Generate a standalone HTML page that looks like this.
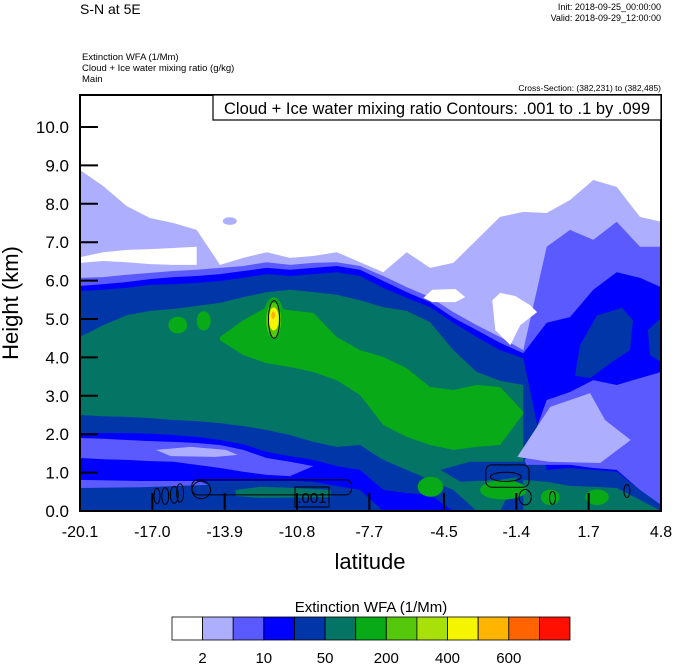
<!DOCTYPE html>
<html><head><meta charset="utf-8"><style>
html,body{margin:0;padding:0;background:#fff;}
svg{display:block;font-family:"Liberation Sans",Arial,sans-serif;}
</style></head><body>
<svg id="chart" width="674" height="668" viewBox="0 0 674 668" xmlns="http://www.w3.org/2000/svg">
<g id="header">
<text x="80" y="14" font-size="14">S-N at 5E</text>
<text x="661" y="10" font-size="9" text-anchor="end">Init: 2018-09-25_00:00:00</text>
<text x="661" y="21" font-size="9" text-anchor="end">Valid: 2018-09-29_12:00:00</text>
<text x="82" y="60" font-size="9.5">Extinction WFA   (1/Mm)</text>
<text x="82" y="71" font-size="9.5">Cloud + Ice water mixing ratio    (g/kg)</text>
<text x="82" y="82" font-size="9.5">Main</text>
<text x="661" y="91" font-size="8.5" text-anchor="end">Cross-Section: (382,231) to (382,485)</text>
</g>
<defs><clipPath id="plotclip"><rect x="80" y="95" width="581" height="416"/></clipPath></defs>
<g id="fills" clip-path="url(#plotclip)"></g>
<g id="contours" clip-path="url(#plotclip)"></g>
<g id="axes"></g>
<rect x="213" y="95" width="448" height="25" fill="#fff" stroke="#000" stroke-width="1.2"/>
<text x="437" y="114" font-size="16.5" text-anchor="middle">Cloud + Ice water mixing ratio Contours: .001 to .1 by .099</text>
<text x="370" y="569" font-size="22" text-anchor="middle">latitude</text>
<text transform="translate(18,303) rotate(-90)" font-size="22" text-anchor="middle">Height (km)</text>
<g id="colorbar"></g>
<text x="371" y="612" font-size="15" text-anchor="middle">Extinction WFA  (1/Mm)</text>
</svg>
<script>
const NS="http://www.w3.org/2000/svg";
// grid latitudes
const lats=[-20.1,-19.1,-18.1,-17.1,-16.1,-15.1,-14.1,-13.1,-12.1,-11.1,-10.1,-9.1,-8.1,-7.1,-6.1,-5.1,-4.1,-3.1,-2.1,-1.1,-0.1,0.9,1.9,2.9,3.9,4.8];
// layer boundaries (km)
const lightTop=[8.88,8.46,7.94,7.63,7.50,7.32,6.41,6.59,6.74,6.59,6.64,6.74,6.48,6.22,6.74,6.33,6.46,7.06,7.66,7.79,7.76,8.10,8.62,8.44,7.66,7.53];
const gapTop=[6.61,6.74,6.80,6.82,6.85,6.88];
const gapBot=[6.46,6.51,6.48,6.43,6.41,6.41];
const medTop=[6.07,6.09,6.15,6.20,6.25,6.28,6.33,6.38,6.48,6.41,6.46,6.48,6.38,6.12,5.83,5.57,5.18,4.84,4.53,4.19,6.88,7.32,7.06,7.53,6.88,6.88];
const blueTop=[5.86,5.91,5.96,6.04,6.09,6.12,6.17,6.25,6.33,6.28,6.33,6.38,6.28,5.99,5.70,5.44,5.03,4.71,4.38,4.11,4.90,5.05,5.76,6.22,6.07,5.83];
const darkTop=[5.73,5.76,5.81,5.89,5.91,5.94,5.99,6.07,6.17,6.12,6.17,6.22,6.12,5.81,5.55,5.31,4.90,4.53,4.19,3.98,1.07,1.12,1.07,1.02,0.55,0.29];
const tealTop=[4.53,4.84,5.10,5.21,5.26,5.34,5.42,5.57,5.70,5.76,5.70,5.63,5.49,5.31,5.21,4.92,4.19,3.62,3.39,3.28];
const tealBot=[2.50,2.47,2.45,2.42,2.37,2.34,2.29,2.21,2.11,1.98,1.80,1.67,1.72,1.33,1.07,0.81,0.55,0,0,1.20];
const greenStart=6;
const greenTop=[4.53,4.97,5.31,5.23,5.16,4.53,4.19,4.01,3.72,3.23,3.15,3.28,3.23,2.58];
const greenBot=[4.45,4.06,3.85,3.75,3.62,3.41,3.02,2.24,1.93,1.72,1.59,1.67,1.72,2.53];
const lowBlueTop=[2.03,2.03,2.03,2.01,1.98,1.93,1.85,1.74,1.54,1.43,1.33,1.17,1.07,0.55,0.47,0.42,0];
const lowBlueBot=[0.76,0.76,0.78,0.78,0.78,0.78,0.78,0.78,0.78,0.78,0.76,0.65,0.55,0,0,0,0];
const lowMedTop=[1.90,1.88,1.85,1.82,1.80,1.77,1.72,1.59,1.38,1.28,1.17];
const lowMedBot=[1.38,1.35,1.33,1.30,1.28,1.20,1.12,1.02,0.94,0.91,1.17];
const rightStart=19;
const sfcTealTop=[0.81,0.76,0.65,0.63,0.60,0.29,0];
const rMedTop=[1.20,2.89,3.10,3.41,3.28,3.46,3.62];
const rMedBot=[1.20,1.20,1.20,1.12,1.07,0.55,0.16];
// patches
const patchLats={
 streak:[-16.85,-15.35,-13.85,-13.34,-14.28,-16.21],
 lowMedStrip:[-20.1,-17.5,-15.0,-14.6,-17.5,-20.1],
 lightRight:[-1.36,0.05,1.76,2.40,3.50,2.19,0.0],
 darkRight:[1.12,1.33,2.06,3.13,3.60,3.47,2.70,1.76],
 darkEdge:[4.24,4.80,4.80,4.33],
 whiteHole:[-2.43,-2.09,-1.45,-0.81,-0.51,-1.23,-1.66,-2.30],
 whiteSmall:[-5.38,-5.00,-4.01,-3.59,-4.01,-5.00],
 darkLow:[-4.66,-3.37,-1.02,-0.81,-2.09,-3.80],
 tealLow:[-13.43,-12.36,-10.86,-9.36,-9.36,-12.36,-13.43]
};
const patchHts={
 streak:[1.59,1.67,1.59,1.46,1.41,1.43],
 lowMedStrip:[0.81,0.78,0.78,0.68,0.62,0.60],
 lightRight:[1.41,2.71,3.07,2.37,1.85,1.25,1.28],
 darkRight:[3.52,4.32,5.10,5.29,4.97,4.19,3.88,3.46],
 darkEdge:[4.71,5.03,3.88,4.06],
 whiteHole:[5.49,5.68,5.60,5.36,5.18,4.84,4.32,4.71],
 whiteSmall:[5.55,5.76,5.78,5.57,5.44,5.44],
 darkLow:[1.07,1.28,1.28,0.94,0.81,0.76],
 tealLow:[0.55,0.63,0.60,0.55,0.36,0.34,0.39]
};
// blobs
const blobLat=[-13.68,-15.91,-14.80,-11.80,-11.80,-11.80,-11.82,-5.08,-1.96,0.05,2.06];
const blobHt=[7.55,4.84,4.95,4.97,4.97,5.00,5.10,0.63,0.55,0.36,0.36];
const blobRLat=[0.30,0.40,0.30,0.45,0.32,0.22,0.08,0.55,1.00,0.40,0.50];
const blobRHt=[0.10,0.22,0.25,0.60,0.45,0.30,0.10,0.26,0.25,0.20,0.20];
const blobLevel=[1,6,6,6,7,9,10,6,6,6,6];
// contour ellipses
const cLat=[-11.78,-16.80,-16.45,-16.06,-15.81,-14.90,-1.85,-1.02,0.15,3.34];
const cHt=[4.99,0.39,0.39,0.42,0.47,0.55,0.89,0.36,0.34,0.52];
const cRLat=[0.24,0.13,0.15,0.17,0.15,0.40,0.66,0.26,0.13,0.13];
const cRHt=[0.49,0.20,0.22,0.22,0.24,0.23,0.12,0.20,0.17,0.17];
const cBoxLat=[[-15.31,-8.46],[-2.71,-0.86]];
const cBoxHt=[[0.42,0.81],[0.62,1.20]];
// colorbar
const levelColors=["#ffffff","#aeaeff","#5a5aff","#0000ff","#0036a8","#047565","#08aa18","#55c80c","#a8e00a","#f5f500","#ffb400","#ff6400","#ff1000"];
const cbLabels=["2","10","50","200","400","600"];
const xTicks=[-20.1,-17.0,-13.9,-10.8,-7.7,-4.5,-1.4,1.7,4.8];
const xTickLabels=["-20.1","-17.0","-13.9","-10.8","-7.7","-4.5","-1.4","1.7","4.8"];
const yTicks=[0,1,2,3,4,5,6,7,8,9,10];
const yTickLabels=["0.0","1.0","2.0","3.0","4.0","5.0","6.0","7.0","8.0","9.0","10.0"];

const X=lat=>80+(lat+20.1)/24.9*581;
const Y=h=>511-h*38.4;
const fills=document.getElementById('fills');
const cont=document.getElementById('contours');
const axes=document.getElementById('axes');
function mk(tag,attrs,parent){const e=document.createElementNS(NS,tag);for(const k in attrs)e.setAttribute(k,attrs[k]);parent.appendChild(e);return e;}
function band(top,bot,start,color,name){
  const pts=[];
  for(let i=0;i<top.length;i++)pts.push(X(lats[start+i]).toFixed(1)+','+Y(top[i]).toFixed(1));
  for(let i=top.length-1;i>=0;i--)pts.push(X(lats[start+i]).toFixed(1)+','+Y(bot?bot[i]:0).toFixed(1));
  const p=mk('polygon',{points:pts.join(' '),fill:color},fills);
  
  
}
function patch(key,color){
  const la=patchLats[key],h=patchHts[key];
  const pts=la.map((v,i)=>X(v).toFixed(1)+','+Y(h[i]).toFixed(1)).join(' ');
  const p=mk('polygon',{points:pts,fill:color},fills);
  
  
}
mk('rect',{x:80,y:95,width:581,height:416,fill:'#fff'},fills);
band(lightTop,null,0,levelColors[1],'band-light-blue');
band(gapTop,gapBot,0,'#ffffff','band-white-gap');
band(medTop,null,0,levelColors[2],'band-medium-blue');
band(blueTop,null,0,levelColors[3],'band-blue');
band(darkTop,null,0,levelColors[4],'band-dark-blue');
band(tealTop,tealBot,0,levelColors[5],'band-teal');
band(greenTop,greenBot,greenStart,levelColors[6],'band-green');
band(lowBlueTop,lowBlueBot,0,levelColors[3],'band-low-blue');
band(lowMedTop,lowMedBot,0,levelColors[2],'band-low-medium-blue');
band(rMedTop,rMedBot,rightStart,levelColors[2],'band-right-medium-blue');
band(sfcTealTop,null,rightStart,levelColors[5],'band-surface-teal');
patch('streak',levelColors[1]);
patch('lowMedStrip',levelColors[2]);
patch('lightRight',levelColors[1]);
patch('darkRight',levelColors[4]);
patch('darkEdge',levelColors[4]);
patch('whiteHole','#ffffff');
patch('whiteSmall','#ffffff');
patch('darkLow',levelColors[4]);
patch('tealLow',levelColors[5]);
for(let i=0;i<blobLat.length;i++){
  const cx=X(blobLat[i]),cy=Y(blobHt[i]);
  const e=mk('ellipse',{cx:cx.toFixed(1),cy:cy.toFixed(1),rx:(X(blobLat[i]+blobRLat[i])-cx).toFixed(1),ry:(cy-Y(blobHt[i]+blobRHt[i])).toFixed(1),fill:levelColors[blobLevel[i]]},fills);
  
  
}
for(let i=0;i<cLat.length;i++){
  const cx=X(cLat[i]),cy=Y(cHt[i]);
  const e=mk('ellipse',{cx:cx.toFixed(1),cy:cy.toFixed(1),rx:(X(cLat[i]+cRLat[i])-cx).toFixed(1),ry:(cy-Y(cHt[i]+cRHt[i])).toFixed(1),fill:'none',stroke:'#000','stroke-width':1},cont);
  
  
}
for(let i=0;i<cBoxLat.length;i++){
  const x1=X(cBoxLat[i][0]),x2=X(cBoxLat[i][1]),y1=Y(cBoxHt[i][1]),y2=Y(cBoxHt[i][0]);
  const r=mk('rect',{x:x1.toFixed(1),y:y1.toFixed(1),width:(x2-x1).toFixed(1),height:(y2-y1).toFixed(1),rx:6,fill:'none',stroke:'#000','stroke-width':1},cont);
  
  
}
const lb=mk('rect',{x:295,y:487,width:34,height:20,fill:'none',stroke:'#000','stroke-width':1},cont);


const lt=mk('text',{x:312,y:503,'font-size':15,'text-anchor':'middle'},cont);
lt.textContent='.001';


// axes
for(let i=0;i<xTicks.length;i++){
  const x=X(xTicks[i]);
  const t=mk('line',{x1:x,y1:511,x2:x,y2:493,stroke:'#000','stroke-width':2},axes);
  
  
  const l=mk('text',{x:x,y:537,'font-size':16,'text-anchor':'middle'},axes);
  l.textContent=xTickLabels[i];
  
  
}
for(let i=0;i<yTicks.length;i++){
  const y=Y(yTicks[i]);
  const t=mk('line',{x1:80,y1:y,x2:98,y2:y,stroke:'#000','stroke-width':2},axes);
  
  
  const l=mk('text',{x:69,y:y+6,'font-size':17,'text-anchor':'end'},axes);
  l.textContent=yTickLabels[i];
  
  
}
const fr=mk('rect',{x:80,y:95,width:581,height:416,fill:'none',stroke:'#000','stroke-width':2},axes);


// colorbar
const cb=document.getElementById('colorbar');
const cbX0=172,cbW=398/levelColors.length;
for(let i=0;i<levelColors.length;i++){
  const r=mk('rect',{x:(cbX0+i*cbW).toFixed(1),y:617,width:cbW.toFixed(1),height:23,fill:levelColors[i],stroke:'#000','stroke-width':0.8},cb);
  
  
}
for(let i=0;i<cbLabels.length;i++){
  const l=mk('text',{x:(cbX0+(1+2*i)*cbW).toFixed(1),y:663,'font-size':15,'text-anchor':'middle'},cb);
  l.textContent=cbLabels[i];
  
  
}
</script>
</body></html>
